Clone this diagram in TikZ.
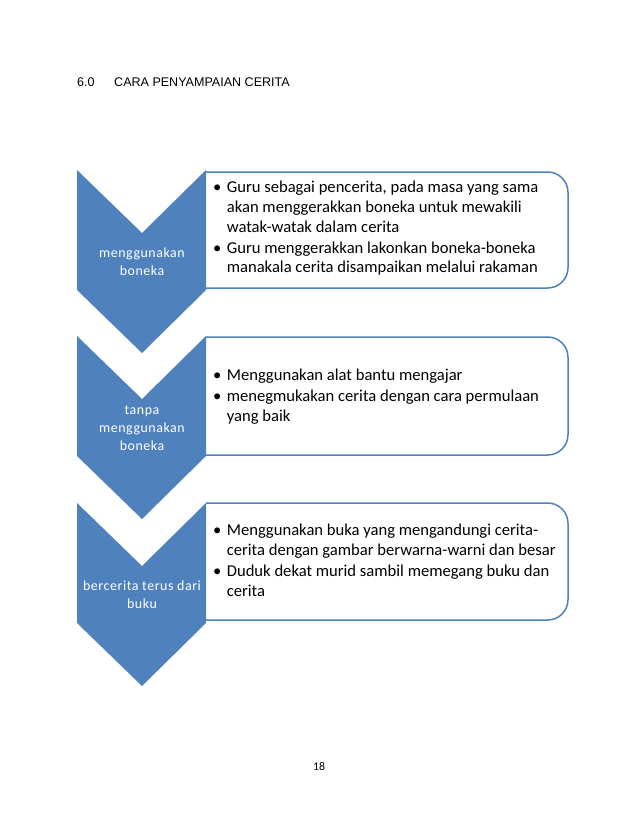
\documentclass[tikz,border=0pt]{standalone}
\usepackage{fontspec}
\setmainfont{Carlito}
\newfontfamily\arialf{Liberation Sans}
\newfontfamily\labf[LetterSpace=4]{Carlito}
\definecolor{ablue}{HTML}{4F81BD}
\tikzset{
  chev/.style={fill=ablue, draw=none},
  infobox/.style={draw=ablue, fill=white, line width=1.4pt, rounded corners=19},
  lab/.style={text=white, font=\labf\fontsize{13}{16.8}\selectfont, align=center, inner sep=0pt},
  itemtxt/.style={anchor=west, font=\fontsize{15.5}{18.3}\selectfont, inner sep=0pt},
  pagetxt/.style={anchor=west, font=\arialf\fontsize{11.7}{14}\selectfont, inner sep=0pt}
}
\newcommand{\chevat}[2]{% #1 name, #2 top y
  \fill[chev] (77,#2) -- (142,#2+63) -- (206,#2) -- (206,#2+120) -- (142,#2+183) -- (77,#2+120) -- cycle;
}
\begin{document}
\begin{tikzpicture}[x=0.9333pt,y=-0.9333pt]
\useasboundingbox[fill=white] (0,0) rectangle (638,826);

\node[pagetxt] (num) at (77,82) {6.0};
\node[pagetxt] (title) at (114,82) {CARA PENYAMPAIAN CERITA};

% boxes
\draw[infobox] (206,172) -- (568,172) -- (568,288) -- (206,288);
\draw[infobox] (206,337) -- (568,337) -- (568,455) -- (206,455);
\draw[infobox] (206,503) -- (568,503) -- (568,620) -- (206,620);

% chevrons
\chevat{c1}{170}
\chevat{c2}{336}
\chevat{c3}{503}

\node[lab] (l1) at (142,262) {menggunakan\\boneka};
\node[lab] (l2) at (142,428) {tanpa\\menggunakan\\boneka};
\node[lab] (l3) at (142,595) {bercerita terus dari\\buku};

\node[itemtxt] (t1) at (213,229) {\begin{tabular}{@{}l@{\hspace{5pt}}l@{}}
•& Guru sebagai pencerita, pada masa yang sama\\
 & akan menggerakkan boneka untuk mewakili\\
 & watak-watak dalam cerita\\[1.5pt]
•& Guru menggerakkan lakonkan boneka-boneka\\
 & manakala cerita disampaikan melalui rakaman
\end{tabular}};

\node[itemtxt] (t2) at (213,397) {\begin{tabular}{@{}l@{\hspace{5pt}}l@{}}
•& Menggunakan alat bantu mengajar\\[1.5pt]
•& menegmukakan cerita dengan cara permulaan\\
 & yang baik
\end{tabular}};

\node[itemtxt] (t3) at (213,562) {\begin{tabular}{@{}l@{\hspace{5pt}}l@{}}
•& Menggunakan buka yang mengandungi cerita-\\
 & cerita dengan gambar berwarna-warni dan besar\\[1.5pt]
•& Duduk dekat murid sambil memegang buku dan\\
 & cerita
\end{tabular}};

\node[font=\fontsize{11}{13}\selectfont, inner sep=0pt] (pg) at (319,767) {18};
\end{tikzpicture}
\end{document}
